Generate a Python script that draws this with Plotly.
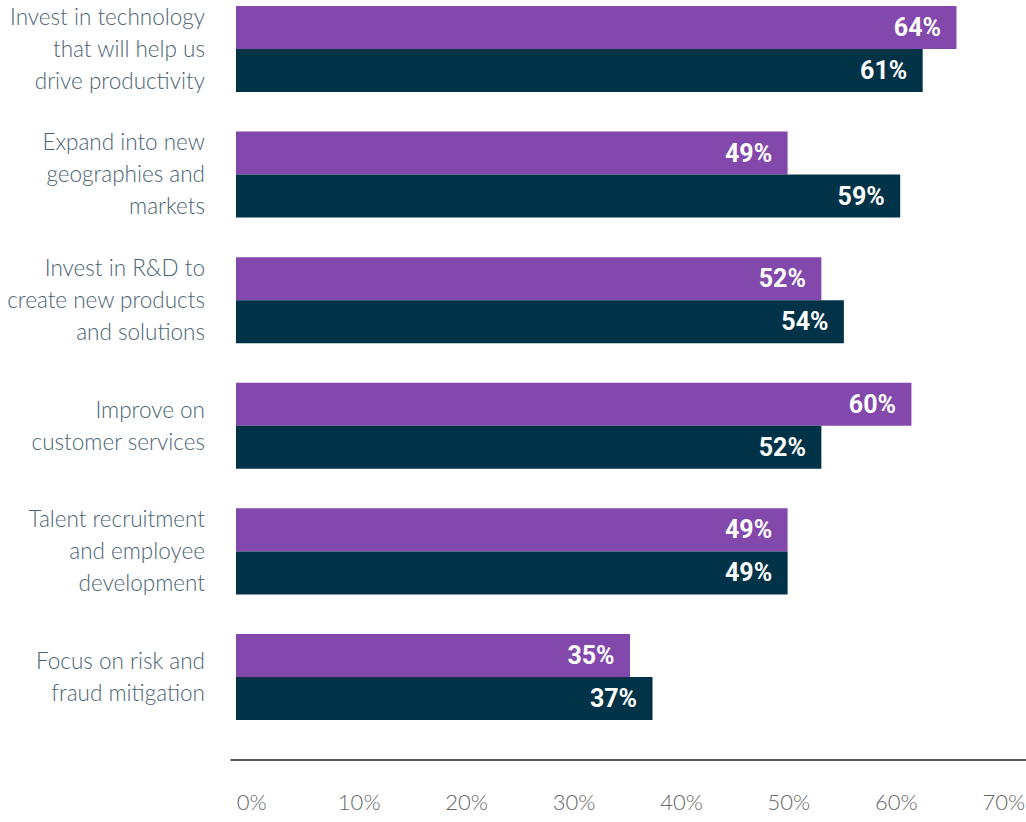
import plotly.graph_objects as go

categories = [
    "Invest in technology<br>that will help us<br>drive productivity",
    "Expand into new<br>geographies and<br>markets",
    "Invest in R&D to<br>create new products<br>and solutions",
    "Improve on<br>customer services",
    "Talent recruitment<br>and employee<br>development",
    "Focus on risk and<br>fraud mitigation",
]
series_a = [64, 49, 52, 60, 49, 35]   # purple
series_b = [61, 59, 54, 52, 49, 37]   # dark navy
x_ticks = [0, 10, 20, 30, 40, 50, 60, 70]
x_ticklabels = [f"{v}%" for v in x_ticks]

PURPLE = "#8348AC"
NAVY = "#003248"
LABEL_COLOR = "#4a6474"

pos = list(range(len(categories)))
line_step = 0.255  # in category units (~32px)

tickvals, ticktext = [], []
for i, c in enumerate(categories):
    lines = c.split("<br>")
    n = len(lines)
    for j, ln in enumerate(lines):
        tickvals.append(i + (j - (n - 1) / 2) * line_step)
        ticktext.append(ln)

# x labels are spread so that the first starts at 0 and the last ends at 70
lo, hi = 1.4, 68.2
x_label_pos = [lo + v * (hi - lo) / 70 for v in x_ticks]

pad = "\u00a0\u00a0"
label_font = dict(family="Roboto", size=25, color="white", weight="bold")
fig = go.Figure()
fig.add_trace(go.Bar(
    y=pos, x=series_a, orientation="h", name="Series A",
    marker=dict(color=PURPLE, line=dict(width=0)),
    text=[f"{v}%{pad}" for v in series_a], textposition="inside",
    insidetextanchor="end", textfont=label_font, hoverinfo="x",
))
fig.add_trace(go.Bar(
    y=pos, x=series_b, orientation="h", name="Series B",
    marker=dict(color=NAVY, line=dict(width=0)),
    text=[f"{v}%{pad}" for v in series_b], textposition="inside",
    insidetextanchor="end", textfont=label_font, hoverinfo="x",
))

fig.update_layout(
    width=1026, height=822,
    margin=dict(l=236, r=2, t=0, b=62),
    paper_bgcolor="white", plot_bgcolor="white",
    barmode="group", bargap=0.315, bargroupgap=0,
    showlegend=False,
    xaxis=dict(
        range=[0, 70], tickvals=x_label_pos, ticktext=x_ticklabels,
        showgrid=False, zeroline=False, showline=False,
        ticks="", ticklabelstandoff=27,
        tickfont=dict(family="Lato", size=22, color="#666666", weight=300),
        fixedrange=True,
    ),
    yaxis=dict(
        range=[5.661, -0.390], tickvals=tickvals, ticktext=ticktext,
        showgrid=False, zeroline=False, showline=False, ticks="",
        ticklabelstandoff=30, fixedrange=True,
        tickfont=dict(family="Lato", size=22.5, color=LABEL_COLOR, weight=300),
    ),
    shapes=[dict(type="line", xref="paper", yref="paper",
                 x0=-0.007, x1=1.003, y0=0, y1=0,
                 line=dict(color="#222222", width=1.5))],
    uniformtext=dict(mode=False),
)

fig.write_html("out.html", config={"displayModeBar": False},
               post_script="document.body.style.margin='0';")
